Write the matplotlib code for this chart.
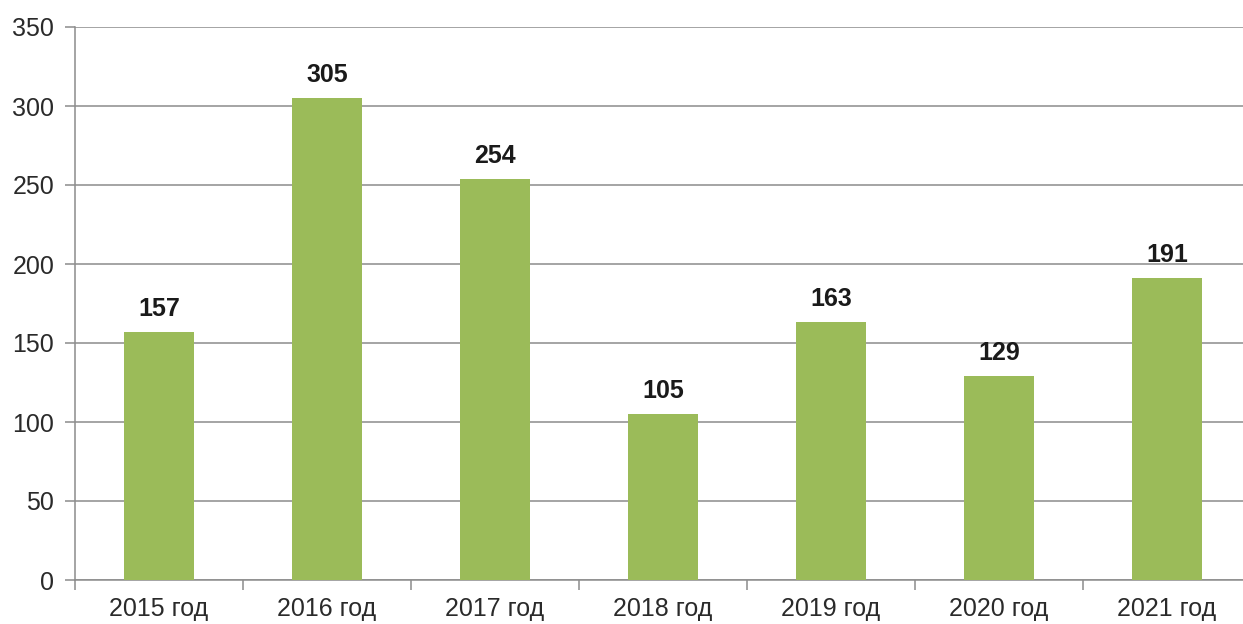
import matplotlib.pyplot as plt

# ==========================================
# Data
# ==========================================

years = ["2015 год", "2016 год", "2017 год", "2018 год",
         "2019 год", "2020 год", "2021 год"]
values = [157, 305, 254, 105, 163, 129, 191]
y_ticks = [0, 50, 100, 150, 200, 250, 300, 350]

plt.rcParams["font.family"] = ["Liberation Sans", "DejaVu Sans"]

# ==========================================
# Plot
# ==========================================

fig = plt.figure(figsize=(12.43, 6.24), dpi=100)
ax = fig.add_axes([75 / 1243, 44 / 624, 1176 / 1243, 553 / 624])

x = range(len(years))
bars = ax.bar(x, values, width=0.42, color="#9BBB59", zorder=3)

for b, v in zip(bars, values):
    ax.text(b.get_x() + b.get_width() / 2, v + 7, str(v),
            ha="center", va="bottom", fontsize=18, fontweight="bold",
            color="#1a1a1a")

ax.set_xlim(-0.5, len(years) - 0.5)
ax.set_ylim(0, 350)
ax.set_yticks(y_ticks)
ax.set_yticklabels([str(t) for t in y_ticks], fontsize=18, color="#2a2a2a")
ax.yaxis.grid(True, color="#8c8c8c", linewidth=1.1, zorder=0)

# category labels centred, tick marks between categories
ax.set_xticks(list(x))
ax.set_xticklabels(years, fontsize=18, color="#2a2a2a")
ax.tick_params(axis="x", length=0, pad=12)
ax.set_xticks([i - 0.5 for i in range(len(years) + 1)], minor=True)
ax.tick_params(axis="x", which="minor", length=7, color="#8c8c8c", width=1.1)
ax.tick_params(axis="y", length=7, color="#8c8c8c", width=1.1, pad=8)

for s in ["top", "right"]:
    ax.spines[s].set_visible(False)
for s in ["left", "bottom"]:
    ax.spines[s].set_color("#8c8c8c")
    ax.spines[s].set_linewidth(1.1)

plt.savefig("out.png", dpi=100)
